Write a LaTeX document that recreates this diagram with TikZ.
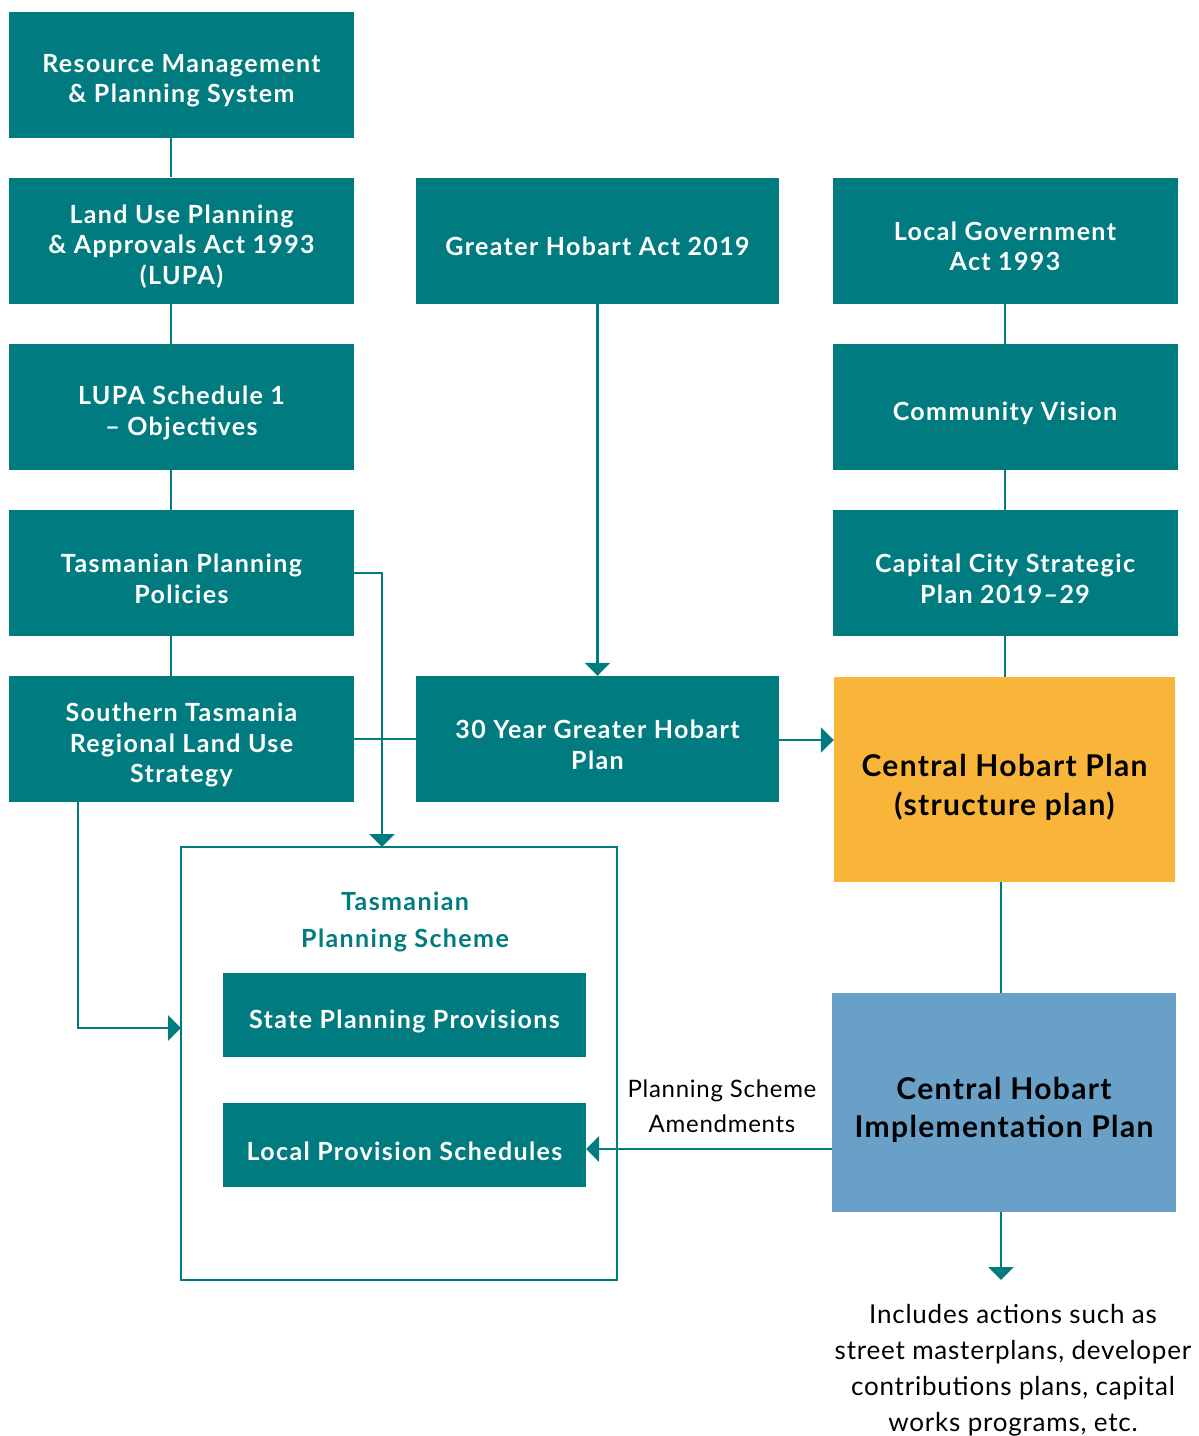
\documentclass[tikz,border=0pt]{standalone}
\usepackage{fontspec}
\setmainfont{Lato}
\newfontfamily\boxfont[LetterSpace=5.5]{Lato}
\newfontfamily\bigfont[LetterSpace=4.5]{Lato}
\newfontfamily\lightfont[LetterSpace=3.0]{Lato}
\usetikzlibrary{arrows.meta}
\definecolor{teal}{RGB}{0,123,127}
\definecolor{orng}{RGB}{249,180,58}
\definecolor{lblue}{RGB}{104,160,200}
\newcommand\tbx[4][]{\node[tbox,#1] (#2) at #3 {};
  \node[ttext] (#2-t) at ([yshift=-6pt]#2.center) {#4};}
\begin{document}
\begin{tikzpicture}[x=1pt,y=-1pt,
  tbox/.style={fill=teal,minimum width=345pt,minimum height=126pt,inner sep=0pt},
  ttext/.style={text=white,font=\boxfont\fontsize{25}{30.5}\selectfont\bfseries,align=center,inner sep=0pt},
  conn/.style={draw=teal,line width=2.5pt},
  arr/.style={conn,-{Triangle[width=25pt,length=13pt]}},
]
\useasboundingbox (0,0) rectangle (1199,1436);
% left column
\tbx{rm}{(181.5,74.5)}{Resource Management\\\& Planning System}
\tbx{lupa}{(181.5,240.5)}{Land Use Planning\\\& Approvals Act 1993\\(LUPA)}
\tbx{sched}{(181.5,407)}{LUPA Schedule 1\\– Objectives}
\tbx{tpp}{(181.5,573)}{Tasmanian Planning\\Policies}
\tbx{st}{(181.5,739)}{Southern Tasmania\\Regional Land Use\\Strategy}
% middle column
\tbx[minimum width=363pt]{gha}{(597.5,240.5)}{Greater Hobart Act 2019}
\tbx[minimum width=363pt]{gh30}{(597.5,739)}{30 Year Greater Hobart\\Plan}
% right column
\tbx{lga}{(1005,240.5)}{Local Government\\Act 1993}
\tbx{cv}{(1005,407)}{Community Vision}
\tbx{cc}{(1005,573)}{Capital City Strategic\\Plan 2019–29}
\node[fill=orng,minimum width=341pt,minimum height=205pt,inner sep=0pt] (chp) at (1004.5,779.5) {};
\node[text=black,font=\bigfont\fontsize{30}{39}\selectfont\bfseries,align=center,inner sep=0pt]
  (chp-t) at ([yshift=-8pt]chp.center) {Central Hobart Plan\\(structure plan)};
\node[fill=lblue,minimum width=344pt,minimum height=219pt,inner sep=0pt] (cip) at (1004,1102.5) {};
\node[text=black,font=\bigfont\fontsize{30}{38}\selectfont\bfseries,align=center,inner sep=0pt]
  (cip-t) at ([yshift=-7pt]cip.center) {Central Hobart\\Implementation Plan};
% planning scheme
\node[draw=teal,line width=2pt,minimum width=436pt,minimum height=433pt,inner sep=0pt] (tps) at (399,1063.5) {};
\node[text=teal,font=\boxfont\fontsize{25}{37}\selectfont\bfseries,align=center] (tpst) at (405,922) {Tasmanian\\Planning Scheme};
\tbx[minimum width=363pt,minimum height=84pt]{spp}{(404.5,1015)}{State Planning Provisions}
\tbx[minimum width=363pt,minimum height=84pt]{lps}{(404.5,1145)}{Local Provision Schedules}
\node[font=\lightfont\fontsize{24}{35}\selectfont,align=center] (psa) at (722,1106) {Planning Scheme\\Amendments};
\node[font=\lightfont\fontsize{26}{36}\selectfont,align=center] (inc) at (1013,1370) {Includes actions such as\\street masterplans, developer\\contributions plans, capital\\works programs, etc.};
% coordinates
\coordinate (tpsin) at (382,847);
\coordinate (stb) at (78,802);
\coordinate (tpsw) at (181,1028);
\coordinate (cipw) at (832,1149);
\coordinate (lpse) at (586,1149);
\coordinate (endp) at (1001,1280);
% connectors
\draw[conn] ([xshift=-10.5pt]rm.south) -- ([xshift=-10.5pt]lupa.north);
\draw[conn] ([xshift=-10.5pt]lupa.south) -- ([xshift=-10.5pt]sched.north);
\draw[conn] ([xshift=-10.5pt]sched.south) -- ([xshift=-10.5pt]tpp.north);
\draw[conn] ([xshift=-10.5pt]tpp.south) -- ([xshift=-10.5pt]st.north);
\draw[conn] (lga.south) -- (cv.north);
\draw[conn] (cv.south) -- (cc.north);
\draw[conn] (cc.south) -- (cc.south |- chp.north);
\draw[conn] ([xshift=-3.5pt]chp.south) -- ([xshift=-3pt]cip.north);
\draw[arr] (tpp.east) -| (tpsin);
\draw[conn] (st.east) -- (gh30.west);
\draw[arr] (gha.south) -- (gh30.north);
\draw[arr] ([yshift=-1pt]gh30.east) -- ([yshift=-1pt]gh30.east -| chp.west);
\draw[arr] (stb) |- (tpsw);
\draw[arr] (cipw) -- (lpse);
\draw[arr] (cip.south -| endp) -- (endp);
\end{tikzpicture}
\end{document}
